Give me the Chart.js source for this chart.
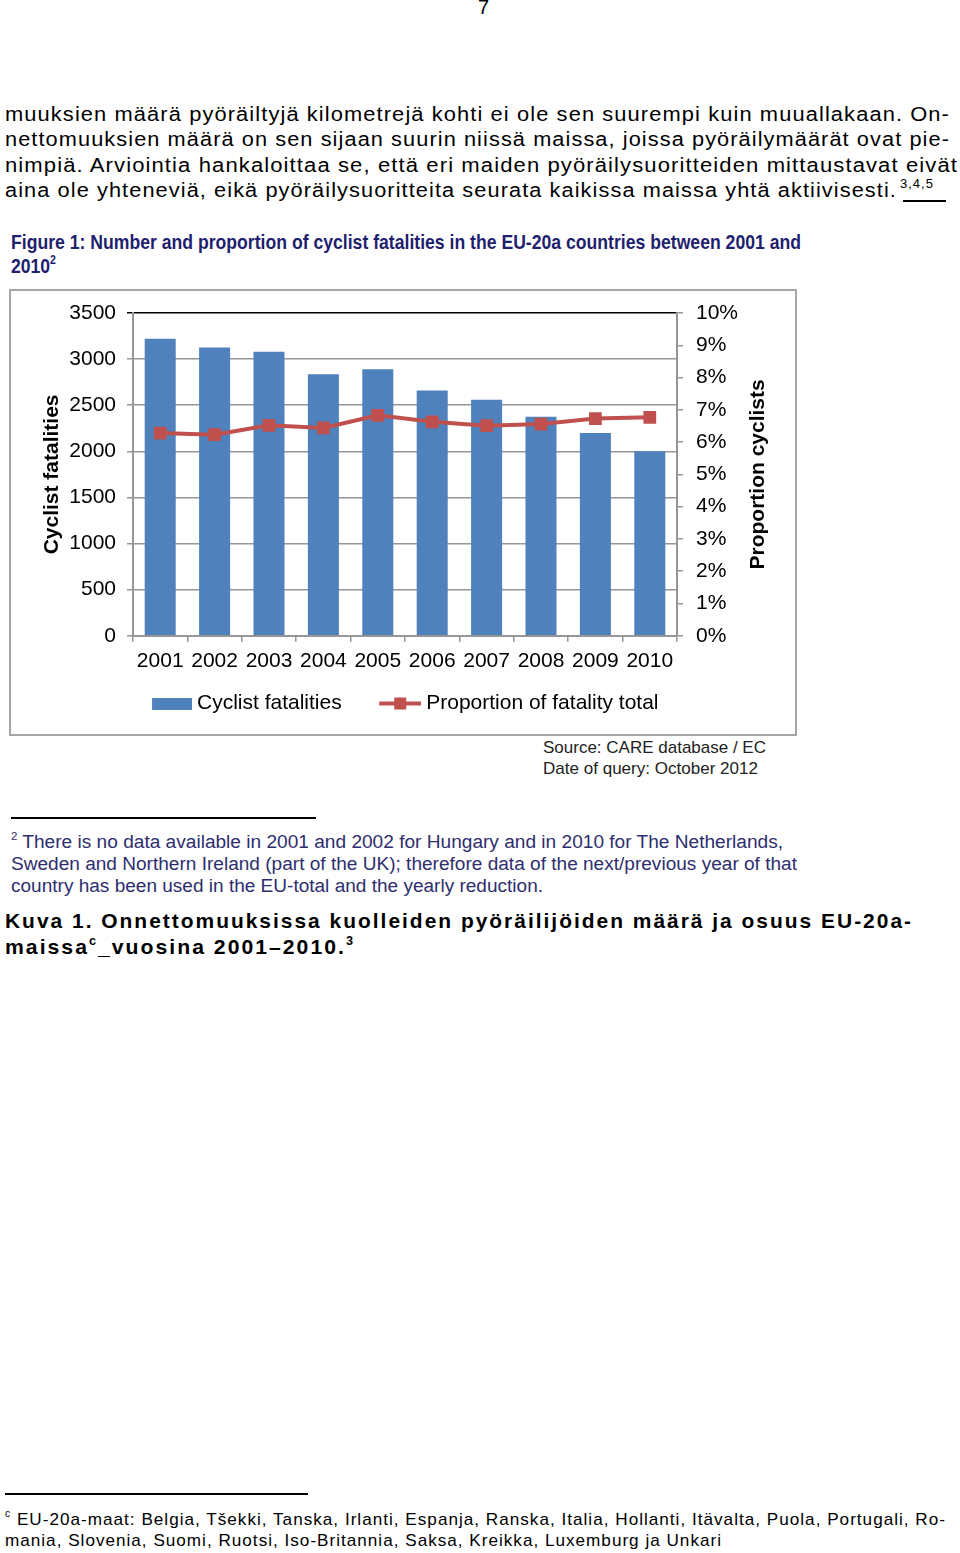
<!DOCTYPE html>
<html lang="fi">
<head>
<meta charset="utf-8">
<title>Kuva 1 - pyöräilijöiden kuolemat EU-20a</title>
<script src="https://cdn.jsdelivr.net/npm/chart.js@4.4.1/dist/chart.umd.min.js"></script>
<style>
  body { margin: 0; background: #fff; font-family: "Liberation Sans", Arial, sans-serif; color: #000; }
  .sivu { position: relative; width: 960px; height: 1553px; overflow: hidden; }
  .ln { position: absolute; white-space: nowrap; transform-origin: 0 0; display: inline-block; }
  .ln sup { font-size: 0.6em; line-height: 0; vertical-align: 0.75em; }
  .teksti { font-size: 20px; line-height: 20px; letter-spacing: 1px; }
  .otsikko { font-size: 21px; line-height: 21px; font-weight: bold; color: #1f1f6f; }
  .lahde { font-size: 17px; line-height: 17px; color: #222; }
  .alaviite2 { font-size: 18px; line-height: 18px; color: #2e2e6e; }
  .kuva { font-size: 21px; line-height: 21px; font-weight: bold; letter-spacing: 2px; }
  .viite { font-size: 17px; line-height: 17px; letter-spacing: 1px; }
  .viiva { position: absolute; background: #000; height: 1.5px; }
  .kehys { position: absolute; left: 9px; top: 289px; width: 784px; height: 443px; border: 2px solid #a6a6a6; }
</style>
</head>
<body>
<div class="sivu">
  <div class="ln teksti" style="left:478px;top:-3px;letter-spacing:0">7</div>

  <div class="ln teksti" data-w="945" style="left:5px;top:104px">muuksien määrä pyöräiltyjä kilometrejä kohti ei ole sen suurempi kuin muuallakaan. On-</div>
  <div class="ln teksti" data-w="945" style="left:5px;top:129px">nettomuuksien määrä on sen sijaan suurin niissä maissa, joissa pyöräilymäärät ovat pie-</div>
  <div class="ln teksti" data-w="953" style="left:5px;top:155px">nimpiä. Arviointia hankaloittaa se, että eri maiden pyöräilysuoritteiden mittaustavat eivät</div>
  <div class="ln teksti" data-w="892" style="left:5px;top:180px">aina ole yhteneviä, eikä pyöräilysuoritteita seurata kaikissa maissa yhtä aktiivisesti.</div>
  <div class="ln" style="left:900px;top:176px;font-size:13px;letter-spacing:1px">3,4,5</div>
  <div class="viiva" style="left:903px;top:200px;width:43px;height:2px"></div>

  <div class="ln otsikko" data-w="790" style="left:11px;top:231px">Figure 1: Number and proportion of cyclist fatalities in the EU-20a countries between 2001 and</div>
  <div class="ln otsikko" data-w="45" style="left:11px;top:255px">2010<sup>2</sup></div>

  <div class="kehys"><canvas id="kaavio" width="784" height="443"></canvas></div>

  <div class="ln lahde" data-w="223" style="left:543px;top:739px">Source: CARE database / EC</div>
  <div class="ln lahde" data-w="215" style="left:543px;top:760px">Date of query: October 2012</div>

  <div class="viiva" style="left:11px;top:817px;width:305px"></div>
  <div class="ln alaviite2" data-w="772" style="left:11px;top:833px"><sup>2</sup> There is no data available in 2001 and 2002 for Hungary and in 2010 for The Netherlands,</div>
  <div class="ln alaviite2" data-w="786" style="left:11px;top:855px">Sweden and Northern Ireland (part of the UK); therefore data of the next/previous year of that</div>
  <div class="ln alaviite2" data-w="532" style="left:11px;top:877px">country has been used in the EU-total and the yearly reduction.</div>

  <div class="ln kuva" data-w="908" style="left:5px;top:910px">Kuva 1. Onnettomuuksissa kuolleiden pyöräilijöiden määrä ja osuus EU-20a-</div>
  <div class="ln kuva" data-w="350" style="left:5px;top:936px">maissa<sup>c</sup>_vuosina 2001–2010.<sup>3</sup></div>

  <div class="viiva" style="left:5px;top:1493px;width:303px"></div>
  <div class="ln viite" data-w="941" style="left:5px;top:1511px"><sup>c</sup> EU-20a-maat: Belgia, Tšekki, Tanska, Irlanti, Espanja, Ranska, Italia, Hollanti, Itävalta, Puola, Portugali, Ro-</div>
  <div class="ln viite" data-w="717" style="left:5px;top:1532px">mania, Slovenia, Suomi, Ruotsi, Iso-Britannia, Saksa, Kreikka, Luxemburg ja Unkari</div>
</div>

<script>
// kaavion arvot (luettu kuvasta)
const vuodet = ["2001","2002","2003","2004","2005","2006","2007","2008","2009","2010"];
const kuolleet = [3220, 3125, 3080, 2835, 2890, 2660, 2560, 2375, 2200, 2000];
const osuus = [6.28, 6.23, 6.52, 6.44, 6.83, 6.63, 6.51, 6.56, 6.73, 6.77];
const vasenMax = 3500;
const vasenAskel = 500;
const oikeaMax = 10;
const oikeaAskel = 1;
const selitteet = ["Cyclist fatalities", "Proportion of fatality total"];
const otsikkoVasen = "Cyclist fatalities";
const otsikkoOikea = "Proportion cyclists";

const sininen = "#4f81bd";
const punainen = "#c0504d";
const harmaa = "#969696";
const fontti = '"Liberation Sans", Arial, sans-serif';

// venytetään tekstirivit oikean levyisiksi
document.querySelectorAll(".ln[data-w]").forEach((el) => {
  const leveys = el.getBoundingClientRect().width;
  const s = Number(el.dataset.w) / leveys;
  el.style.transform = `scaleX(${s})`;
});

// selitteen kuvakkeet: leveä läpinäkyvä kangas, merkki oikeassa reunassa
const kuvakeLeveys = 73;
function palkkiKuvake(){
  const c = document.createElement("canvas");
  c.width = kuvakeLeveys; c.height = 12;
  const g = c.getContext("2d");
  g.fillStyle = sininen;
  g.fillRect(kuvakeLeveys - 40, 0, 40, 12);
  return c;
}
function viivaKuvake(){
  const c = document.createElement("canvas");
  c.width = kuvakeLeveys; c.height = 14;
  const g = c.getContext("2d");
  g.strokeStyle = punainen;
  g.lineWidth = 4;
  g.beginPath(); g.moveTo(kuvakeLeveys - 42, 7); g.lineTo(kuvakeLeveys, 7); g.stroke();
  g.fillStyle = punainen;
  g.fillRect(kuvakeLeveys - 27, 1, 12, 12);
  return c;
}
const kuvakkeet = [palkkiKuvake(), viivaKuvake()];

// oikean akselin otsikko luetaan alhaalta ylös
const oikeaOtsikko = {
  id: "oikeaOtsikko",
  afterDraw(chart){
    const {ctx, chartArea} = chart;
    ctx.save();
    ctx.translate(chart.width - 37, (chartArea.top + chartArea.bottom) / 2);
    ctx.rotate(-Math.PI / 2);
    ctx.font = "bold 21px " + fontti;
    ctx.fillStyle = "#000";
    ctx.textAlign = "center";
    ctx.textBaseline = "middle";
    ctx.fillText(otsikkoOikea, 0, 0);
    ctx.restore();
  }
};

const tikit = { font: { family: fontti, size: 21 }, color: "#000" };

new Chart(document.getElementById("kaavio"), {
  data: {
    labels: vuodet,
    datasets: [
      {
        type: "bar",
        label: selitteet[0],
        data: kuolleet,
        backgroundColor: sininen,
        barPercentage: 0.57,
        categoryPercentage: 1,
        yAxisID: "y",
        order: 2
      },
      {
        type: "line",
        label: selitteet[1],
        data: osuus,
        borderColor: punainen,
        backgroundColor: punainen,
        borderWidth: 4,
        pointStyle: "rect",
        pointRadius: 9,
        pointBorderWidth: 0,
        yAxisID: "y1",
        order: 1
      }
    ]
  },
  options: {
    responsive: false,
    animation: false,
    layout: { padding: { top: 22, left: 0, right: 23, bottom: 10 } },
    plugins: {
      tooltip: { enabled: false },
      legend: {
        position: "bottom",
        labels: {
          font: { family: fontti, size: 21 },
          color: "#000",
          usePointStyle: true,
          pointStyleWidth: 62,
          padding: 12,
          sort: (a, b) => a.datasetIndex - b.datasetIndex,
          generateLabels(chart){
            const oletus = Chart.defaults.plugins.legend.labels.generateLabels(chart);
            return oletus.map((item) => {
              item.pointStyle = kuvakkeet[item.datasetIndex];
              return item;
            });
          }
        }
      }
    },
    scales: {
      x: {
        grid: { offset: true, drawOnChartArea: false, tickLength: 6, color: harmaa, lineWidth: 1.5 },
        border: { color: harmaa, width: 2 },
        ticks: Object.assign({ padding: 7, maxRotation: 0, autoSkip: false }, tikit)
      },
      y: {
        position: "left",
        min: 0,
        max: vasenMax,
        ticks: Object.assign({ stepSize: vasenAskel, padding: 11, callback: (v) => String(v) }, tikit),
        grid: {
          tickLength: 6,
          lineWidth: 1.5,
          color: (c) => (c.tick && c.tick.value === vasenMax ? "#000" : harmaa)
        },
        border: { color: harmaa, width: 2 },
        title: {
          display: true,
          text: otsikkoVasen,
          color: "#000",
          font: { family: fontti, size: 21, weight: "bold" },
          padding: { top: 29, bottom: 0 }
        },
        afterFit(s){ s.width = 122; s.paddingTop = 5; s.paddingBottom = 5; }
      },
      y1: {
        position: "right",
        min: 0,
        max: oikeaMax,
        ticks: Object.assign({ stepSize: oikeaAskel, padding: 13, callback: (v) => v + "%" }, tikit),
        grid: { drawOnChartArea: false, tickLength: 6, color: harmaa, lineWidth: 1.5 },
        border: { color: harmaa, width: 2 },
        afterFit(s){ s.width = 95; s.paddingTop = 5; s.paddingBottom = 5; }
      }
    }
  },
  plugins: [oikeaOtsikko]
});
</script>
</body>
</html>
